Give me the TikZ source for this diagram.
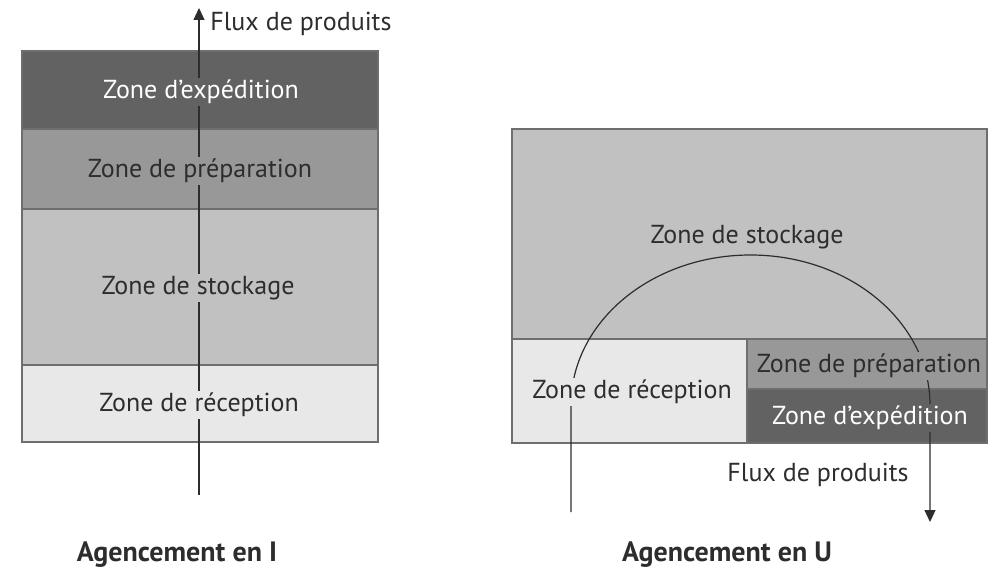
\documentclass[tikz,border=0pt]{standalone}
\usepackage{fontspec}
\setmainfont{PT Sans}
\usepackage{tikz}
\usetikzlibrary{arrows.meta}

\definecolor{expcol}{RGB}{98,98,98}
\definecolor{prepcol}{RGB}{152,152,152}
\definecolor{stockcol}{RGB}{193,193,193}
\definecolor{recepcol}{RGB}{232,232,232}
\definecolor{edgecol}{RGB}{110,110,110}
\definecolor{txtcol}{RGB}{45,45,45}

\begin{document}
\begin{tikzpicture}[x=0.5pt,y=-0.5pt,>={Triangle[length=6pt,width=5.5pt]},
                    zone/.style={draw=edgecol,line width=0.7pt,inner sep=0pt},
                    zone text/.style={inner sep=1pt,text=txtcol,font=\fontsize{13}{15}\selectfont},
                    flux/.style={->,draw=txtcol,line width=0.6pt},
                    title/.style={font=\bfseries\fontsize{14}{16}\selectfont,text=txtcol}]
  \useasboundingbox (0,0) rectangle (999,571);

  % agencement en I
  \node[zone,fill=expcol,minimum width=178pt,minimum height=39pt] (exp1) at (200,90) {};
  \node[zone,fill=prepcol,minimum width=178pt,minimum height=40pt] (prep1) at (200,169) {};
  \node[zone,fill=stockcol,minimum width=178pt,minimum height=78pt] (stock1) at (200,287) {};
  \node[zone,fill=recepcol,minimum width=178pt,minimum height=38.5pt] (recep1) at (200,403.5) {};

  \coordinate (in1) at (199,495);
  \coordinate (out1) at (199,8);
  \draw[flux] (in1) -- (out1);

  \node[zone text,fill=expcol,text=white] at (201,92) {Zone d’expédition};
  \node[zone text,fill=prepcol] at (200,171) {Zone de préparation};
  \node[zone text,fill=stockcol] at (198,288) {Zone de stockage};
  \node[zone text,fill=recepcol] at (199,405) {Zone de réception};
  \node[zone text,anchor=west] (flux1) at (208,24) {Flux de produits};
  \node[title] (titre1) at (177,555) {Agencement en I};

  % agencement en U
  \node[zone,fill=stockcol,minimum width=237.5pt,minimum height=105pt] (stock2) at (749.5,234) {};
  \node[zone,fill=recepcol,minimum width=117.5pt,minimum height=52pt] (recep2) at (629.5,391) {};
  \node[zone,fill=prepcol,minimum width=120pt,minimum height=25pt] (prep2) at (867,364) {};
  \node[zone,fill=expcol,minimum width=120pt,minimum height=27pt] (exp2) at (867,416) {};

  \coordinate (in2) at (571,512);
  \coordinate (out2) at (930,522);
  \draw[flux] (in2) -- (571,405) arc[start angle=180,end angle=360,x radius=179.5,y radius=150] -- (out2);

  \node[zone text,fill=stockcol] at (747,237) {Zone de stockage};
  \node[zone text,fill=recepcol] at (632,392) {Zone de réception};
  \node[zone text,fill=prepcol] at (869,366) {Zone de préparation};
  \node[zone text,fill=expcol,text=white] at (870,418) {Zone d’expédition};
  \node[zone text] (flux2) at (818,475) {Flux de produits};
  \node[title] (titre2) at (727,555) {Agencement en U};
\end{tikzpicture}
\end{document}
